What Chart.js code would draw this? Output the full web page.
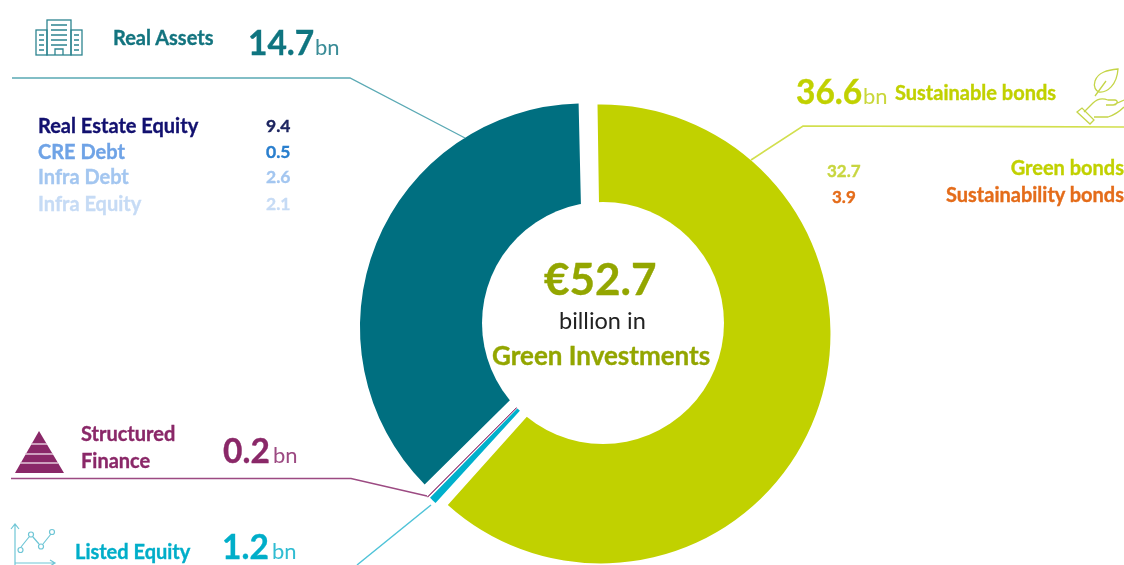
<!DOCTYPE html>
<html>
<head>
<meta charset="utf-8">
<title>Green Investments</title>
<script src="https://cdn.jsdelivr.net/npm/chart.js@4"></script>
<style>
  html, body { margin: 0; background: #fff; overflow: hidden; }
  #wrap { position: relative; width: 1124px; height: 565px; overflow: hidden; font-family: Lato, "Open Sans", sans-serif; }
  #donut { position: absolute; left: 0; top: 0; }
  #art { position: absolute; left: 0; top: 0; }
  .t { position: absolute; white-space: nowrap; line-height: 1; transform: translateY(-50%); }
  .b { -webkit-text-stroke: 0.35px currentColor; }
</style>
</head>
<body>
<div id="wrap">
  <canvas id="donut" width="1124" height="565"></canvas>
  <svg id="art" width="1124" height="565" fill="none">
    <!-- leader lines -->
    <polyline points="12,78 350,78 465,138" stroke="#5aa9b4" stroke-width="1.3"/>
    <polyline points="1124,127 803,126 751,160" stroke="#d2df4e" stroke-width="1.6"/>
    <polyline points="11,478.5 351,478.5 427,496" stroke="#9c4a82" stroke-width="1.3"/>
    <polyline points="431,505 357,565" stroke="#4fc3d8" stroke-width="1.4"/>

    <!-- building -->
    <g stroke="#2d8490" stroke-width="1.3">
      <rect x="36" y="30" width="11" height="25"/>
      <rect x="71" y="30" width="11" height="25"/>
      <rect x="47" y="20" width="24" height="35"/>
      <path d="M39 35h5M39 40h5M39 45h5M39 50h5M74 35h5M74 40h5M74 45h5M74 50h5M51 25h16M51 30h16M51 35h16M51 40h16M51 45h16M55 55v-6h8v6"/>
    </g>

    <!-- pyramid -->
    <path d="M39 431 L64 473 H15 Z" fill="#8a2868"/>
    <path d="M31 444h16M25 454h28M20 463h38" stroke="#e3c6d9" stroke-width="1.3"/>

    <!-- line chart icon -->
    <g stroke="#6fc6d6" stroke-width="1.2">
      <path d="M15 565V524M11 529l4-5 4 5M15 563h39M50 560l5 3-5 3"/>
      <path d="M21 547l8-10M33 537l6 7M43 544l8-10"/>
      <circle cx="20.500" cy="550" r="2.500"/>
      <circle cx="31" cy="534.500" r="2.500"/>
      <circle cx="41" cy="546.500" r="2.500"/>
      <circle cx="52" cy="532" r="2.500"/>
    </g>

    <!-- leaf in hand -->
    <g stroke="#c5d548" stroke-width="1.3">
      <path d="M1118 69c-10 1-20 3-23 12-2 6 1 10 4 11 8 1 18-7 19-23zM1095 96l11-15"/>
      <path d="M1084 112l9-9c5-5 10-5 15-3h7c4 1 2 5-2 5h-7M1113 105l11-5M1124 107c-5 5-10 8-16 10l-14 0"/>
      <path d="M1077 112l5-4 12 12-4 4z"/>
    </g>
  </svg>
</div>

<script>
// slice order runs clockwise from the top
const categories = ["Sustainable bonds", "Listed Equity", "Structured Finance", "Real Assets"];
// printed totals, in bn
const printedValues = ["36.6", "1.2", "0.2", "14.7"];
// slice sizes read off the arcs as drawn (degrees) - the picture does not draw them in proportion to the printed totals
const sliceDegrees = [223.4, 2.4, 0.6, 133.6];
const sliceColors = ["#c1d100", "#00b0cc", "#8a2868", "#006f80"];

const realAssetNames = ["Real Estate Equity", "CRE Debt", "Infra Debt", "Infra Equity"];
const realAssetValues = ["9.4", "0.5", "2.6", "2.1"];
const bondNames = ["Green bonds", "Sustainability bonds"];
const bondValues = ["32.7", "3.9"];
const totalValue = "€52.7";

const wrap = document.getElementById("wrap");

function addText(text, x, y, size, color, weight, alignRight) {
  const el = document.createElement("div");
  el.className = weight === 400 ? "t" : "t b";
  el.textContent = text;
  el.style.top = y + "px";
  if (alignRight) {
    el.style.right = 1124 - x + "px";
  } else {
    el.style.left = x + "px";
  }
  el.style.fontSize = size + "px";
  el.style.color = color;
  el.style.fontWeight = weight || 700;
  wrap.appendChild(el);
}

// Real Assets block
addText(categories[3], 113, 37, 20, "#13747f");
addText(printedValues[3], 248, 43, 33.5, "#0f7580");
addText("bn", 315, 47, 22, "#3a8c97", 400);
addText(realAssetNames[0], 38, 125, 20, "#12106f");
addText(realAssetNames[1], 38, 151, 20, "#6fa3e6");
addText(realAssetNames[2], 38, 176, 20, "#a3c6f0");
addText(realAssetNames[3], 38, 203, 20, "#c6dbf5");
addText(realAssetValues[0], 266, 126, 17.5, "#1d2560");
addText(realAssetValues[1], 266, 152, 17.5, "#2a7fce");
addText(realAssetValues[2], 266, 177, 17.5, "#a3c6f0");
addText(realAssetValues[3], 266, 204, 17.5, "#c6dbf5");

// Bonds block
addText(printedValues[0], 796, 92, 33.5, "#c1d100");
addText("bn", 863, 96, 22, "#c9d73a", 400);
addText(categories[0], 895, 92, 20, "#c1d100");
addText(bondValues[0], 827, 170, 17, "#c8d640");
addText(bondValues[1], 832, 196, 17, "#e46c1a");
addText(bondNames[0], 1124, 167, 20, "#c1d100", 700, true);
addText(bondNames[1], 1124, 194, 20, "#e46c1a", 700, true);

// Structured Finance / Listed Equity
addText("Structured", 81, 433, 20, "#8a2868");
addText("Finance", 81, 460, 20, "#8a2868");
addText(printedValues[2], 223, 451, 33.5, "#8a2868");
addText("bn", 273, 455, 22, "#9c4a82", 400);
addText(categories[1], 75, 551, 20, "#00aec9");
addText(printedValues[1], 222, 547, 33.5, "#00aec9");
addText("bn", 272, 551, 22, "#30bcd2", 400);

// centre of the ring
addText(totalValue, 544, 278, 44, "#93a600");
addText("billion in", 559, 321, 23.5, "#222222", 400);
addText("Green Investments", 492, 355, 26, "#93a600");

// the hole is a white disc laid over a pie, it is not concentric with the slices
const holeDisc = {
  id: "holeDisc",
  afterDatasetsDraw(chart) {
    const ctx = chart.ctx;
    ctx.save();
    ctx.fillStyle = "#ffffff";
    ctx.beginPath();
    ctx.arc(603, 323, 121, 0, Math.PI * 2);
    ctx.fill();
    ctx.restore();
  },
};

new Chart(document.getElementById("donut").getContext("2d"), {
  type: "pie",
  data: {
    labels: categories,
    datasets: [
      {
        data: sliceDegrees,
        backgroundColor: sliceColors,
        borderColor: sliceColors,
        borderWidth: [0, 0, 0.8, 0],
        offset: [34, 25, 27, 40], // chart.js moves a slice by offset / 4
      },
    ],
  },
  options: {
    responsive: false,
    animation: false,
    rotation: -1.2,
    radius: 221,
    layout: { padding: { left: 62, top: 97 } }, // puts the pie centre at 593, 331
    plugins: {
      legend: { display: false },
      tooltip: { enabled: false },
    },
  },
  plugins: [holeDisc],
});
</script>
</body>
</html>
